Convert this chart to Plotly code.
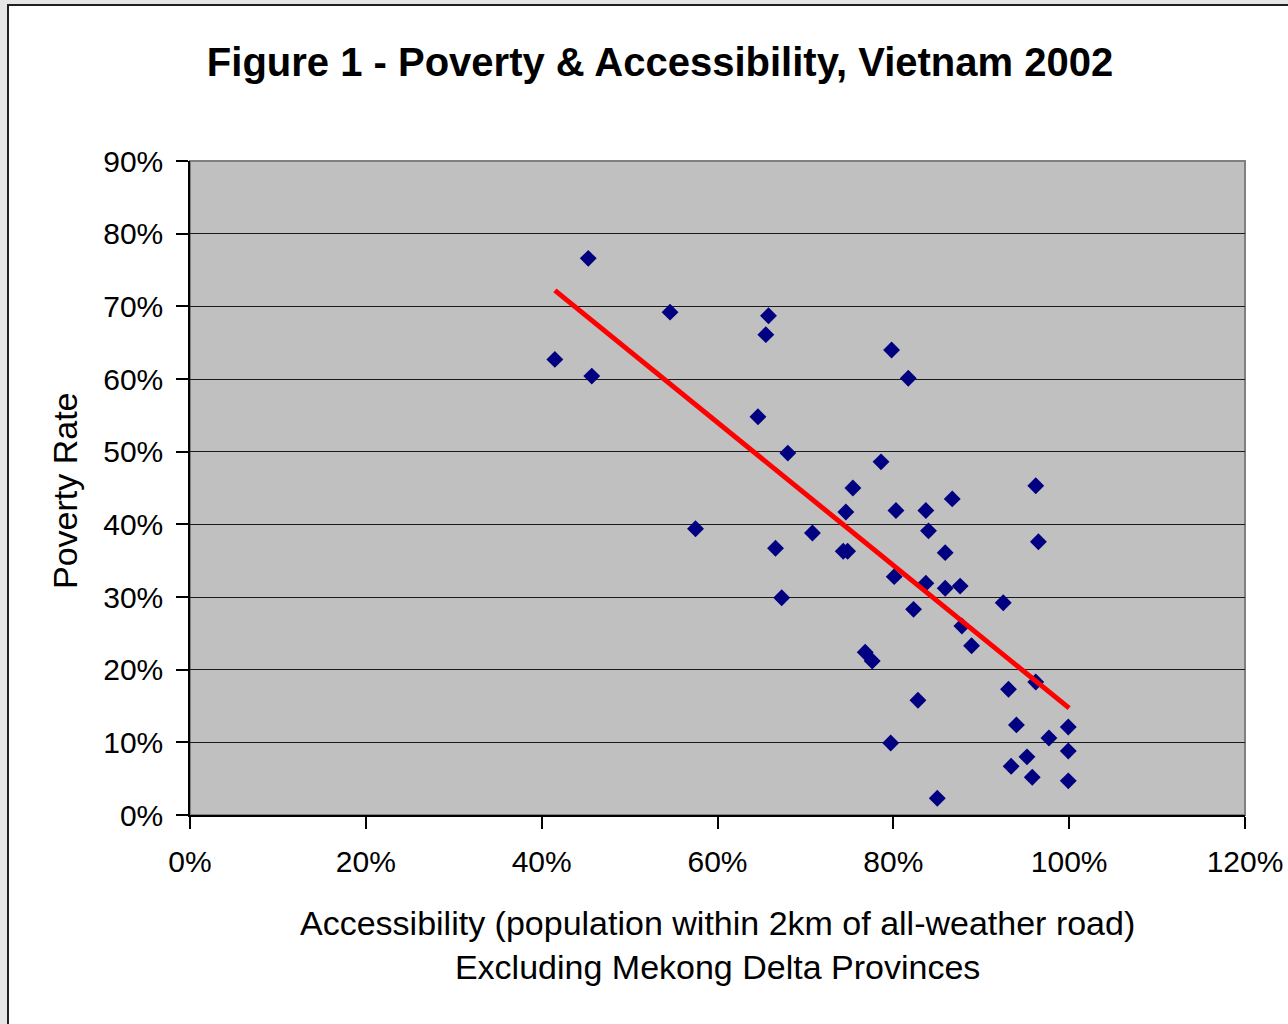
import plotly.graph_objects as go

# Accessibility (share of population within 2km of all-weather road)
access = [0.453, 0.415, 0.457, 0.546, 0.658, 0.655, 0.646, 0.575, 0.680, 0.666,
          0.673, 0.798, 0.817, 0.786, 0.754, 0.746, 0.708, 0.743, 0.748, 0.803,
          0.837, 0.867, 0.840, 0.859, 0.801, 0.837, 0.859, 0.876, 0.823, 0.878,
          0.889, 0.925, 0.962, 0.965, 0.768, 0.776, 0.828, 0.797, 0.850, 0.931,
          0.962, 0.940, 0.999, 0.977, 0.999, 0.952, 0.934, 0.958, 0.999]
# Poverty rate
poverty = [0.766, 0.627, 0.604, 0.692, 0.687, 0.661, 0.548, 0.394, 0.498, 0.367,
           0.299, 0.640, 0.601, 0.486, 0.450, 0.417, 0.388, 0.363, 0.363, 0.419,
           0.419, 0.435, 0.391, 0.361, 0.328, 0.319, 0.312, 0.315, 0.283, 0.260,
           0.233, 0.292, 0.453, 0.376, 0.224, 0.212, 0.158, 0.099, 0.023, 0.173,
           0.183, 0.124, 0.121, 0.106, 0.088, 0.080, 0.067, 0.052, 0.047]

# Linear trend line end points (as drawn)
trend_x = [0.415, 1.0]
trend_y = [0.722, 0.147]

x_ticks = [0, 0.2, 0.4, 0.6, 0.8, 1.0, 1.2]
x_tick_labels = ["0%", "20%", "40%", "60%", "80%", "100%", "120%"]
y_ticks = [0, 0.1, 0.2, 0.3, 0.4, 0.5, 0.6, 0.7, 0.8, 0.9]
y_tick_labels = ["0%", "10%", "20%", "30%", "40%", "50%", "60%", "70%", "80%", "90%"]

TITLE = "Figure 1 - Poverty & Accessibility, Vietnam 2002"
X_TITLE = "Accessibility (population within 2km of all-weather road)<br>Excluding Mekong Delta Provinces"
Y_TITLE = "Poverty Rate"

W, H = 1288, 1024
L, R, T, B = 190, 1288 - 1245, 161, 1024 - 815
pw, ph = W - L - R, H - T - B

def px_x(p):
    return (p - L) / pw

def px_y(p):
    return (H - B - p) / ph

font_main = "Liberation Sans, Arial, sans-serif"

fig = go.Figure()
fig.add_trace(go.Scatter(
    x=access, y=poverty, mode="markers",
    marker=dict(symbol="diamond", size=13, color="#000080", line=dict(width=0)),
    showlegend=False, hoverinfo="x+y",
))
fig.add_trace(go.Scatter(
    x=trend_x, y=trend_y, mode="lines",
    line=dict(color="#FF0000", width=5),
    showlegend=False, hoverinfo="skip",
))

shapes = [
    # white chart area with dark border
    dict(type="rect", xref="paper", yref="paper", layer="below",
         x0=px_x(8), x1=px_x(1330), y0=px_y(1040), y1=px_y(5),
         fillcolor="white", line=dict(color="#202020", width=2)),
    # grey plot area with grey border
    dict(type="rect", xref="paper", yref="paper", layer="below",
         x0=0, x1=1, y0=0, y1=1,
         fillcolor="#C0C0C0", line=dict(color="#808080", width=2)),
]

fig.update_layout(
    width=W, height=H, autosize=False,
    margin=dict(l=L, r=R, t=T, b=B, pad=0),
    paper_bgcolor="#E6E6E6",
    plot_bgcolor="#C0C0C0",
    shapes=shapes,
    title=dict(text="<b>" + TITLE + "</b>", xref="container", yref="container",
               x=660 / W, xanchor="center", y=1 - 62 / H, yanchor="middle",
               font=dict(family=font_main, size=40, color="black")),
    xaxis=dict(range=[0, 1.2], tickvals=x_ticks, ticktext=x_tick_labels,
               showgrid=False, zeroline=False, showline=True, linecolor="black", linewidth=1.5,
               ticks="outside", ticklen=12, tickcolor="black", tickwidth=1.5,
               tickfont=dict(family=font_main, size=30, color="black"),
               ticklabelstandoff=7, automargin=False),
    yaxis=dict(range=[0, 0.9], tickvals=y_ticks, ticktext=y_tick_labels,
               showgrid=True, gridcolor="#1a1a1a", gridwidth=1.2,
               zeroline=False, showline=True, linecolor="black", linewidth=1.5,
               ticks="outside", ticklen=12, tickcolor="black", tickwidth=1.5,
               tickfont=dict(family=font_main, size=30, color="black"),
               ticklabelstandoff=7, automargin=False),
    annotations=[
        dict(text=X_TITLE, xref="paper", yref="paper", x=0.5, y=px_y(945),
             xanchor="center", yanchor="middle", showarrow=False, align="center",
             font=dict(family=font_main, size=34, color="black")),
        dict(text=Y_TITLE, xref="paper", yref="paper", x=px_x(65), y=px_y(491),
             xanchor="center", yanchor="middle", showarrow=False, textangle=-90,
             font=dict(family=font_main, size=34, color="black")),
    ],
)

fig.write_html("out.html", config={"displayModeBar": False, "responsive": False},
               post_script="document.body.style.margin='0';document.body.style.overflow='hidden';")
